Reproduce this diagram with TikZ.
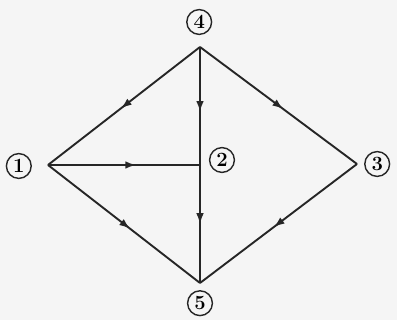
\documentclass[tikz,border=0pt]{standalone}
\usetikzlibrary{arrows.meta,decorations.markings}

\begin{document}
\begin{tikzpicture}[>=Latex,
  wire/.style={line width=1.35pt,draw=black!85},
  midarrow/.style={decoration={markings,mark=at position #1 with {\arrow{Latex[length=2.7mm,width=1.9mm]}}},postaction={decorate}},
  midarrow/.default=0.53,
  lbl/.style={circle,draw=black!85,line width=1pt,inner sep=0pt,minimum size=6.2mm,font=\Large\bfseries}]
  \useasboundingbox[fill=black!4] (0,0) rectangle (9.925,8);
  % junctions
  \coordinate (j4) at (5,6.825);
  \coordinate (j1) at (1.2,3.875);
  \coordinate (j2) at (5,3.875);
  \coordinate (j3) at (8.925,3.9);
  \coordinate (j5) at (5,0.925);
  % circled numbers
  \node[lbl] (n4) at (4.98,7.45) {4};
  \node[lbl] (n1) at (0.47,3.85) {1};
  \node[lbl] (n2) at (5.55,4.0) {2};
  \node[lbl] (n3) at (9.43,3.9) {3};
  \node[lbl] (n5) at (5,0.42) {5};
  % branches
  \draw[wire,midarrow=0.52] (j4) -- (j1);
  \draw[wire,midarrow=0.53] (j4) -- (j3);
  \draw[wire,midarrow=0.55] (j4) -- (j2);
  \draw[wire,midarrow=0.5] (j2) -- (j5);
  \draw[wire,midarrow=0.58] (j1) -- (j2);
  \draw[wire,midarrow=0.54] (j1) -- (j5);
  \draw[wire,midarrow=0.53] (j3) -- (j5);
\end{tikzpicture}
\end{document}
